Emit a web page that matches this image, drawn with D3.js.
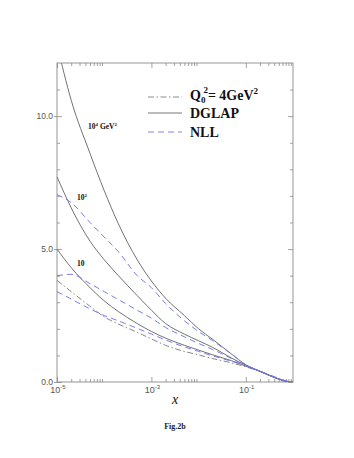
<!DOCTYPE html>
<html>
<head>
<meta charset="utf-8">
<script src="https://cdn.jsdelivr.net/npm/d3@7"></script>
<style>
  body { margin: 0; background: #fff; }
  svg { display: block; }
</style>
</head>
<body>
<svg id="chart" width="354" height="458"></svg>
<script>
// x grid shared by all curves
const xs = [1e-5, 2e-5, 5e-5, 1e-4, 2e-4, 5e-4, 1e-3, 2e-3, 5e-3, 1e-2, 2e-2, 5e-2, 0.1, 0.2, 0.4, 0.6, 0.8, 1];

// initial distribution at Q0^2 = 4 GeV^2
const q0Init = [3.82, 3.4, 2.85, 2.45, 2.18, 1.87, 1.62, 1.38, 1.15, 1.02, 0.88, 0.72, 0.57, 0.4, 0.2, 0.08, 0.02, 0];

// DGLAP evolution (solid)
const dglap1e4 = [12.7, 10.6, 8.6, 7.2, 5.95, 4.6, 3.8, 3.15, 2.5, 2.0, 1.6, 1.05, 0.65, 0.4, 0.17, 0.06, 0.01, 0];
const dglap1e2 = [7.72, 6.55, 5.3, 4.6, 4.0, 3.25, 2.7, 2.2, 1.8, 1.55, 1.3, 0.9, 0.63, 0.4, 0.17, 0.06, 0.01, 0];
const dglap10  = [5.0, 4.3, 3.55, 3.05, 2.65, 2.2, 1.9, 1.65, 1.38, 1.2, 1.02, 0.8, 0.6, 0.4, 0.18, 0.07, 0.015, 0];

// NLL evolution (dashed)
const nll1e4 = [7.05, 6.75, 6.0, 5.45, 4.9, 4.0, 3.55, 2.95, 2.3, 1.9, 1.55, 1.05, 0.65, 0.41, 0.18, 0.07, 0.015, 0];
const nll1e2 = [4.0, 4.05, 3.7, 3.4, 3.1, 2.7, 2.4, 2.05, 1.7, 1.45, 1.22, 0.88, 0.62, 0.41, 0.18, 0.07, 0.015, 0];
const nll10  = [3.4, 3.12, 2.75, 2.5, 2.3, 2.02, 1.8, 1.58, 1.32, 1.15, 0.98, 0.78, 0.6, 0.41, 0.19, 0.07, 0.015, 0];

// axis ticks
const yMajor = [0, 5, 10];
const yMinor = [1, 2, 3, 4, 6, 7, 8, 9, 11];
const xMajor = [1e-5, 1e-3, 1e-1];
const xMajorExp = ["-5", "-3", "-1"];
const xMinor = [];
[-5, -3, -1].forEach(e => { for (let k = 2; k <= 9; k++) xMinor.push(k * Math.pow(10, e)); });

const svg = d3.select("#chart");
const L = 57, R = 293, T = 63, B = 382;
const x = d3.scaleLog().domain([1e-5, 1]).range([L, R]);
const y = d3.scaleLinear().domain([0, 12]).range([B, T]);

const axisColor = "#8a8a8a";
const solidColor = "#6a6a6a";
const nllColor = "#7474ec";

svg.append("defs").append("clipPath").attr("id", "plot-clip")
  .append("rect").attr("x", L).attr("y", T).attr("width", R - L).attr("height", B - T);

// ticks with d3 axes (inner ticks), labels drawn separately
function tickAxis(gen, transform, values, size) {
  const g = svg.append("g").attr("transform", transform)
    .call(gen.tickValues(values).tickSize(size).tickFormat(""));
  g.select(".domain").remove();
  g.selectAll("line").attr("stroke", axisColor).attr("stroke-width", 0.8);
  return g;
}
tickAxis(d3.axisLeft(y), `translate(${L},0)`, yMinor, -3);
tickAxis(d3.axisLeft(y), `translate(${L},0)`, yMajor, -5);
tickAxis(d3.axisLeft(y), `translate(${L},0)`, yMajor, 3);
tickAxis(d3.axisRight(y), `translate(${R},0)`, yMinor, -3);
tickAxis(d3.axisRight(y), `translate(${R},0)`, yMajor, -5);
tickAxis(d3.axisBottom(x), `translate(0,${B})`, xMinor, -3);
tickAxis(d3.axisBottom(x), `translate(0,${B})`, xMajor, -5);
tickAxis(d3.axisTop(x), `translate(0,${T})`, xMinor, -3);
tickAxis(d3.axisTop(x), `translate(0,${T})`, xMajor, -5);

svg.append("rect").attr("x", L).attr("y", T).attr("width", R - L).attr("height", B - T)
  .attr("fill", "none").attr("stroke", axisColor).attr("stroke-width", 0.9);

// y labels
svg.append("g").selectAll("text").data(yMajor).join("text")
  .attr("x", L - 4).attr("y", d => y(d) + 3)
  .attr("text-anchor", "end")
  .style("font-family", "'Liberation Sans', Arial, sans-serif")
  .style("font-size", "8.5px").style("fill", "#555")
  .text(d => d.toFixed(1));

// x labels 10^n
const xl = svg.append("g").selectAll("text").data(xMajor).join("text")
  .attr("x", d => x(d) + 1).attr("y", B + 10.5)
  .attr("text-anchor", "middle")
  .style("font-family", "'Liberation Sans', Arial, sans-serif")
  .style("font-size", "9px").style("fill", "#555");
xl.append("tspan").text("10");
xl.append("tspan").attr("dy", -4).style("font-size", "6px").text((d, i) => xMajorExp[i]);

// curves
const line = d3.line().x(d => x(d[0])).y(d => y(d[1])).curve(d3.curveMonotoneX);
const curves = [
  { v: q0Init, color: "#808080", dash: "6,2.5,1.5,2.5" },
  { v: dglap1e4, color: solidColor, dash: null },
  { v: dglap1e2, color: solidColor, dash: null },
  { v: dglap10, color: solidColor, dash: null },
  { v: nll1e4, color: nllColor, dash: "6,4" },
  { v: nll1e2, color: nllColor, dash: "6,4" },
  { v: nll10, color: nllColor, dash: "6,4" }
];
svg.append("g").attr("clip-path", "url(#plot-clip)")
  .selectAll("path").data(curves).join("path")
  .attr("d", c => line(xs.map((xv, i) => [xv, c.v[i]])))
  .attr("fill", "none")
  .attr("stroke", c => c.color)
  .attr("stroke-width", 0.95)
  .attr("stroke-dasharray", c => c.dash);

// curve labels
const serif = "'Liberation Serif', 'Times New Roman', serif";
function curveLabel(px, py, base, sup, rest, sup2) {
  const t = svg.append("text").attr("x", px).attr("y", py)
    .style("font-family", serif).style("font-weight", "bold")
    .style("font-size", "7.5px").style("fill", "#111");
  t.append("tspan").text(base);
  t.append("tspan").attr("dy", -3).style("font-size", "5px").text(sup);
  if (rest) {
    t.append("tspan").attr("dy", 3).text(rest);
    t.append("tspan").attr("dy", -3).style("font-size", "5px").text(sup2);
  }
}
curveLabel(88, 129, "10", "4", " GeV", "2");
curveLabel(77, 200, "10", "2");
svg.append("text").attr("x", 77).attr("y", 266)
  .style("font-family", serif).style("font-weight", "bold")
  .style("font-size", "7.5px").style("fill", "#111").text("10");

// legend
const legend = [
  { label: "DGLAP", color: solidColor, dash: null, ly: 113 },
  { label: "NLL", color: nllColor, dash: "6,4", ly: 132 }
];
svg.append("line").attr("x1", 148).attr("x2", 182).attr("y1", 97).attr("y2", 97)
  .attr("stroke", "#808080").attr("stroke-width", 0.9).attr("stroke-dasharray", "6,2.5,1.5,2.5");
const qt = svg.append("text").attr("x", 190).attr("y", 100)
  .style("font-family", serif).style("font-weight", "bold").style("font-size", "14px").style("fill", "#111");
qt.append("tspan").text("Q");
qt.append("tspan").attr("dy", 3).style("font-size", "9px").text("0");
qt.append("tspan").attr("dx", -2).attr("dy", -10).style("font-size", "9px").text("2");
qt.append("tspan").attr("dy", 7).text("= 4GeV");
qt.append("tspan").attr("dy", -6).style("font-size", "9px").text("2");

legend.forEach(d => {
  svg.append("line").attr("x1", 148).attr("x2", 182).attr("y1", d.ly).attr("y2", d.ly)
    .attr("stroke", d.color).attr("stroke-width", 0.9).attr("stroke-dasharray", d.dash);
  svg.append("text").attr("x", 190).attr("y", d.ly + 5)
    .style("font-family", serif).style("font-weight", "bold").style("font-size", "14px").style("fill", "#111")
    .text(d.label);
});

// axis title and caption
svg.append("text").attr("x", 175).attr("y", 404).attr("text-anchor", "middle")
  .style("font-family", serif).style("font-style", "italic").style("font-size", "14px").style("fill", "#111")
  .text("x");
svg.append("text").attr("x", 175).attr("y", 429).attr("text-anchor", "middle")
  .style("font-family", serif).style("font-weight", "bold").style("font-size", "8px").style("fill", "#222")
  .text("Fig.2b");
</script>
</body>
</html>
